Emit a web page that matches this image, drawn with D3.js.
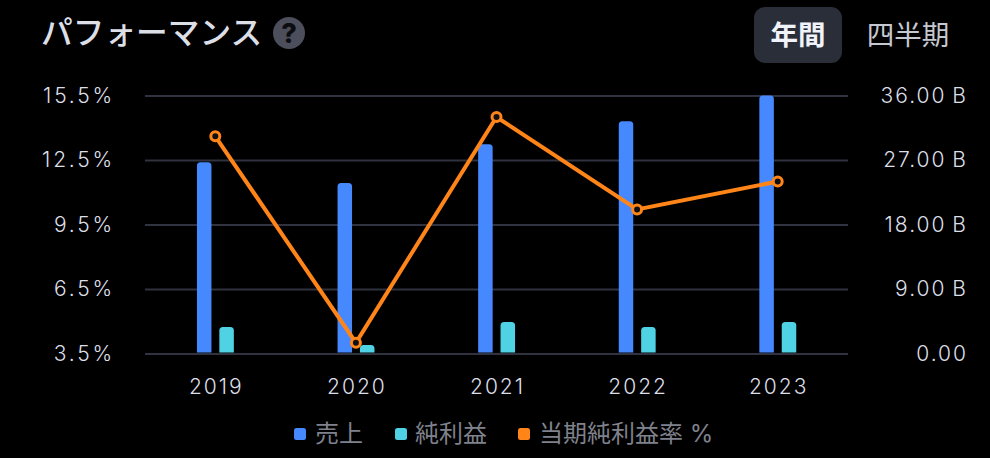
<!DOCTYPE html>
<html><head><meta charset="utf-8">
<script src="https://cdn.jsdelivr.net/npm/d3@7/dist/d3.min.js"></script>
<style>html,body{margin:0;background:#000;overflow:hidden}svg{display:block}text{font-family:Inter,"Noto Sans CJK JP",sans-serif}</style>
</head><body><svg id="c" width="990" height="458"></svg>
<script>
const years=["2019","2020","2021","2022","2023"];
const revenue=[26.7,23.8,29.2,32.4,36.0];
const netIncome=[3.7,1.2,4.4,3.7,4.4];
const margin=[13.6,4.0,14.5,10.2,11.5];
const leftTicks=[3.5,6.5,9.5,12.5,15.5];
const rightTicks=[0,9,18,27,36];
const leftLabels=["3.5%","6.5%","9.5%","12.5%","15.5%"];
const rightLabels=["0.00","9.00\u2009B","18.00\u2009B","27.00\u2009B","36.00\u2009B"];
const legendNames=["売上","純利益","当期純利益率 %"];

const svg=d3.select("#c");
const x=d3.scaleBand().domain(years).range([145,848]);
const yL=d3.scaleLinear().domain([3.5,15.5]).range([353.5,95.5]);
const yR=d3.scaleLinear().domain([0,36]).range([353.5,95.5]);
const BLUE="#4689ff",CYAN="#4fd3e4",ORANGE="#ff8519",GRID="#30323f",TICK="#dcdfe7";

svg.append("text").attr("x",41).attr("y",44).attr("font-size",31.7).attr("font-weight",500).attr("fill","#dcdfe6").text("パフォーマンス");
svg.append("circle").attr("cx",289).attr("cy",33).attr("r",16).attr("fill","#4c4e5c");
svg.append("text").attr("x",289).attr("y",43).attr("text-anchor","middle").attr("font-size",27).attr("font-weight",800).attr("fill","#0d0d10").text("?");
svg.append("rect").attr("x",754).attr("y",7).attr("width",88).attr("height",56).attr("rx",11).attr("fill","#2a2e39");
svg.append("text").attr("x",798).attr("y",45).attr("text-anchor","middle").attr("font-size",27.5).attr("font-weight",700).attr("fill","#f0f3fa").text("年間");
svg.append("text").attr("x",908).attr("y",45).attr("text-anchor","middle").attr("font-size",27.5).attr("fill","#c5c8d0").text("四半期");

const gridG=svg.append("g").attr("transform","translate(145,0)").call(d3.axisRight(yL).tickValues(leftTicks).tickSize(703).tickFormat(""));
gridG.select(".domain").remove();
gridG.selectAll(".tick line").attr("stroke",GRID).attr("stroke-width",2);

const aL=svg.append("g").attr("transform","translate(115,0)").call(d3.axisLeft(yL).tickValues(leftTicks).tickSize(0).tickPadding(0).tickFormat((d,i)=>leftLabels[i]));
const aR=svg.append("g").attr("transform","translate(968,0)").call(d3.axisLeft(yR).tickValues(rightTicks).tickSize(0).tickPadding(0).tickFormat((d,i)=>rightLabels[i]));
const aX=svg.append("g").attr("transform","translate(1,386)").call(d3.axisBottom(x).tickSize(0).tickPadding(0));
[aL,aR,aX].forEach(a=>{a.select(".domain").remove();a.selectAll("text").attr("font-size",21).attr("font-weight",300).attr("letter-spacing",2).attr("fill",TICK).style("font-family","Inter,sans-serif")});
aL.selectAll("text").attr("letter-spacing",2.8);
aX.selectAll("text").attr("y",-7).attr("dy",".71em");
aL.selectAll("text").attr("dy","0.33em");
aR.selectAll("text").attr("dy","0.33em");

function topBar(cx,w,top,bottom,r){return `M${cx-w/2},${bottom}V${top+r}Q${cx-w/2},${top} ${cx-w/2+r},${top}H${cx+w/2-r}Q${cx+w/2},${top} ${cx+w/2},${top+r}V${bottom}Z`}
const c=d=>x(d)+x.bandwidth()/2;
svg.append("g").selectAll("path").data(years).join("path").attr("fill",BLUE).attr("d",(d,i)=>topBar(c(d)-11.1,14.5,yR(revenue[i]),352.5,3.5));
svg.append("g").selectAll("path").data(years).join("path").attr("fill",CYAN).attr("d",(d,i)=>topBar(c(d)+11.3,14.5,yR(netIncome[i]),352.5,3.5));

const line=d3.line().x(d=>c(d)).y((d,i)=>yL(margin[i]));
svg.append("path").datum(years).attr("fill","none").attr("stroke",ORANGE).attr("stroke-width",4).attr("d",line);
svg.append("g").selectAll("circle").data(years).join("circle").attr("cx",c).attr("cy",(d,i)=>yL(margin[i])).attr("r",4.5).attr("fill","#101014").attr("stroke",ORANGE).attr("stroke-width",3);

const legendX=[294,395,518],legendTextX=[315,415,539],legendColors=[BLUE,CYAN,ORANGE];
const lg=svg.append("g");
legendNames.forEach((n,i)=>{
 lg.append("rect").attr("x",legendX[i]).attr("y",428).attr("width",12).attr("height",12).attr("rx",2.5).attr("fill",legendColors[i]);
 lg.append("text").attr("x",legendTextX[i]).attr("y",442).attr("font-size",24).attr("fill","#7f828c").text(n);
});
</script></body></html>
